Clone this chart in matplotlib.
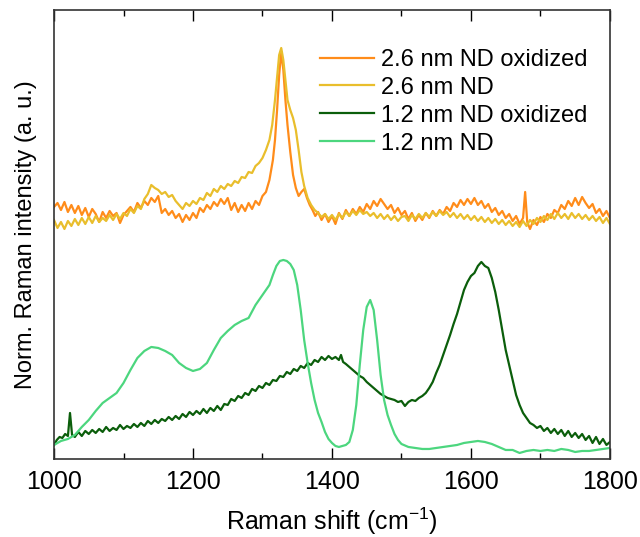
import numpy as np
import matplotlib
matplotlib.use("Agg")
import matplotlib.pyplot as plt

plt.rcParams['font.family'] = ['Liberation Sans', 'DejaVu Sans']
plt.rcParams['mathtext.fontset'] = 'custom'
plt.rcParams['mathtext.rm'] = 'Liberation Sans'
plt.rcParams['mathtext.it'] = 'Liberation Sans:italic'

labels = ["2.6 nm ND oxidized", "2.6 nm ND", "1.2 nm ND oxidized", "1.2 nm ND"]
colors = ["#FF8C1A", "#E9BE2C", "#0B5E0B", "#4CD67E"]

# 2.6 nm ND oxidized
x_o26 = np.concatenate([np.arange(1000, 1311, 5),
                        [1315, 1318, 1321, 1324, 1327, 1330, 1333, 1336, 1340, 1344,
                         1348, 1352, 1356, 1360, 1364, 1368, 1372, 1376, 1380],
                        np.arange(1385, 1676, 5), [1678, 1681], np.arange(1685, 1801, 5)])
y_o26 = [2.52, 2.56, 2.49, 2.57, 2.47, 2.54, 2.46, 2.53, 2.44, 2.51,
         2.42, 2.50, 2.45, 2.37, 2.47, 2.41, 2.48, 2.43, 2.46, 2.36,
         2.44, 2.48, 2.52, 2.47, 2.56, 2.51, 2.58, 2.54, 2.61, 2.57,
         2.63, 2.46, 2.50, 2.44, 2.48, 2.41, 2.45, 2.37, 2.44, 2.39,
         2.46, 2.41, 2.51, 2.47, 2.54, 2.50, 2.57, 2.53, 2.60, 2.55,
         2.61, 2.49, 2.56, 2.47, 2.54, 2.48, 2.56, 2.50, 2.58, 2.54,
         2.63, 2.67, 2.79,
         2.99, 3.19, 3.49, 3.84, 4.07, 3.89, 3.59, 3.34, 3.07, 2.84,
         2.71, 2.63, 2.67, 2.70, 2.61, 2.54, 2.49, 2.43, 2.47,
         2.39, 2.45, 2.37, 2.43, 2.35, 2.46, 2.40, 2.49, 2.43, 2.50,
         2.45, 2.52, 2.47, 2.55, 2.50, 2.58, 2.53, 2.60, 2.55, 2.50,
         2.54, 2.46, 2.51, 2.44, 2.48, 2.40, 2.46, 2.38, 2.44, 2.39,
         2.46, 2.41, 2.48, 2.43, 2.49, 2.45, 2.52, 2.48, 2.56, 2.52,
         2.59, 2.54, 2.60, 2.55, 2.61, 2.54, 2.58, 2.51, 2.55, 2.47,
         2.51, 2.44, 2.48, 2.41, 2.45, 2.38, 2.43, 2.35, 2.41,
         2.67, 2.37,
         2.30, 2.39, 2.34, 2.42, 2.37, 2.45, 2.41, 2.49, 2.46, 2.54,
         2.50, 2.58, 2.53, 2.61, 2.54, 2.62, 2.56, 2.51, 2.55, 2.46,
         2.50, 2.43, 2.48, 2.41]

# 2.6 nm ND
x_26 = np.concatenate([np.arange(1000, 1311, 5),
                       [1314, 1318, 1321, 1324, 1327, 1330, 1333, 1336, 1340, 1344,
                        1348, 1352, 1356, 1360],
                       np.arange(1365, 1801, 5)])
y_26 = [2.39, 2.31, 2.37, 2.30, 2.38, 2.33, 2.40, 2.34, 2.41, 2.35,
        2.42, 2.36, 2.43, 2.37, 2.41, 2.38, 2.44, 2.39, 2.45, 2.40,
        2.46, 2.43, 2.50, 2.46, 2.53, 2.50, 2.60, 2.65, 2.74, 2.71,
        2.69, 2.65, 2.67, 2.62, 2.64, 2.58, 2.54, 2.50, 2.56, 2.53,
        2.58, 2.55, 2.61, 2.59, 2.66, 2.63, 2.70, 2.67, 2.73, 2.70,
        2.75, 2.73, 2.78, 2.76, 2.82, 2.81, 2.87, 2.86, 2.93, 2.96,
        3.01, 3.09, 3.19,
        3.34, 3.59, 3.81, 4.04, 4.11, 3.99, 3.79, 3.59, 3.49, 3.41,
        3.29, 3.09, 2.87, 2.73,
        2.61, 2.54, 2.49, 2.46, 2.42, 2.45, 2.40, 2.44, 2.39, 2.45,
        2.41, 2.47, 2.43, 2.48, 2.44, 2.49, 2.45, 2.47, 2.43, 2.46,
        2.41, 2.45, 2.40, 2.44, 2.39, 2.43, 2.38, 2.42, 2.43, 2.38,
        2.44, 2.40, 2.45, 2.41, 2.46, 2.42, 2.47, 2.43, 2.48, 2.44,
        2.47, 2.42, 2.46, 2.41, 2.45, 2.40, 2.44, 2.39, 2.43, 2.38,
        2.42, 2.37, 2.41, 2.36, 2.40, 2.35, 2.39, 2.34, 2.38, 2.33,
        2.37, 2.32, 2.38, 2.33, 2.39, 2.35, 2.41, 2.37, 2.43, 2.39,
        2.45, 2.40, 2.46, 2.41, 2.45, 2.40, 2.46, 2.41, 2.45, 2.40,
        2.44, 2.39, 2.43, 2.38, 2.42, 2.36, 2.41, 2.35]

# 1.2 nm ND oxidized
x_o12 = np.concatenate([[1000, 1004, 1008, 1012, 1016, 1020, 1023, 1026],
                        np.arange(1030, 1411, 5), [1413, 1416], np.arange(1420, 1801, 5)])
y_o12 = [0.14, 0.19, 0.22, 0.21, 0.25, 0.23, 0.46, 0.24,
         0.22, 0.27, 0.23, 0.28, 0.25, 0.29, 0.26, 0.30, 0.27, 0.32,
         0.28, 0.31, 0.29, 0.34, 0.30, 0.33, 0.31, 0.35, 0.32, 0.36,
         0.33, 0.38, 0.35, 0.39, 0.36, 0.40, 0.38, 0.42, 0.39, 0.43,
         0.40, 0.45, 0.42, 0.47, 0.44, 0.48, 0.45, 0.50, 0.46, 0.51,
         0.48, 0.53, 0.49, 0.55, 0.54, 0.60, 0.58, 0.63, 0.61, 0.66,
         0.64, 0.70, 0.68, 0.73, 0.71, 0.76, 0.74, 0.79, 0.78, 0.83,
         0.82, 0.87, 0.85, 0.90, 0.88, 0.93, 0.91, 0.96, 0.94, 0.99,
         0.97, 1.02, 0.99, 1.03, 1.00, 1.02, 0.99,
         1.04, 0.97,
         0.95, 0.92, 0.89, 0.86, 0.83, 0.81, 0.77, 0.74, 0.71, 0.68,
         0.65, 0.63, 0.61, 0.60, 0.59, 0.57, 0.58, 0.53, 0.57, 0.59,
         0.58, 0.61, 0.63, 0.66, 0.71, 0.77, 0.86, 0.94, 1.04, 1.14,
         1.24, 1.35, 1.45, 1.57, 1.69, 1.77, 1.83, 1.86, 1.93, 1.97,
         1.93, 1.91, 1.81, 1.67, 1.49, 1.29, 1.09, 0.94, 0.79, 0.64,
         0.54, 0.46, 0.41, 0.36, 0.34, 0.31, 0.33, 0.28, 0.31, 0.26,
         0.30, 0.25, 0.29, 0.23, 0.28, 0.22, 0.26, 0.21, 0.25, 0.19,
         0.23, 0.16, 0.22, 0.15, 0.20, 0.14, 0.17]

# 1.2 nm ND
x_12 = np.concatenate([np.arange(1000, 1310, 10), np.arange(1310, 1500, 5),
                       np.arange(1500, 1801, 10)])
y_12 = [0.14, 0.18, 0.20, 0.24, 0.32, 0.39, 0.48, 0.56, 0.61, 0.66,
        0.76, 0.89, 1.01, 1.08, 1.12, 1.11, 1.08, 1.04, 0.96, 0.91,
        0.88, 0.90, 0.96, 1.09, 1.21, 1.28, 1.34, 1.38, 1.41, 1.54,
        1.64,
        1.74, 1.84, 1.93, 1.98, 1.99, 1.98, 1.95, 1.89, 1.74, 1.49,
        1.19, 0.96, 0.76, 0.59, 0.46, 0.37, 0.27, 0.20, 0.16, 0.13,
        0.12, 0.13, 0.14, 0.17, 0.29, 0.54, 0.94, 1.29, 1.52, 1.59,
        1.49, 1.19, 0.84, 0.59, 0.44, 0.34, 0.25, 0.19,
        0.15, 0.12, 0.11, 0.10, 0.10, 0.11, 0.12, 0.13, 0.14, 0.16,
        0.17, 0.18, 0.17, 0.15, 0.12, 0.09, 0.09, 0.06, 0.08, 0.09,
        0.08, 0.09, 0.08, 0.10, 0.09, 0.07, 0.08, 0.08, 0.09, 0.10,
        0.11]

xticks = [1000, 1200, 1400, 1600, 1800]

series = [(x_o26, y_o26), (x_26, y_26), (x_o12, y_o12), (x_12, y_12)]
for xs, ys in series:
    assert len(xs) == len(ys), (len(xs), len(ys))

fig = plt.figure(figsize=(6.4, 5.37), dpi=100)
ax = fig.add_axes([0.0844, 0.1453, 0.8686, 0.8361])
for (xs, ys), c, lab in zip(series, colors, labels):
    ax.plot(xs, ys, color=c, lw=1.6, label=lab)

ax.set_xlim(1000, 1800)
ax.set_ylim(0, 4.49)
ax.set_xticks(xticks)
ax.set_xticks(np.arange(1100, 1800, 200), minor=True)
ax.set_yticks([])
ax.tick_params(axis='x', which='major', direction='in', length=8, width=1,
               top=True, labelsize=18, pad=8)
ax.tick_params(axis='x', which='minor', direction='in', length=4, width=1, top=True)
for s in ax.spines.values():
    s.set_linewidth(1.2)
    s.set_color('#333333')
ax.set_xlabel("Raman shift (cm$^{\\mathregular{-1}}$)", fontsize=18, labelpad=8)
ax.set_ylabel("Norm. Raman intensity (a. u.)", fontsize=17, labelpad=12)
ax.legend(loc='upper right', bbox_to_anchor=(0.985, 0.945), frameon=False, fontsize=17,
          handlelength=2.3, handletextpad=0.3, labelspacing=0.25, borderaxespad=0.2)

fig.savefig("out.png", dpi=100)
